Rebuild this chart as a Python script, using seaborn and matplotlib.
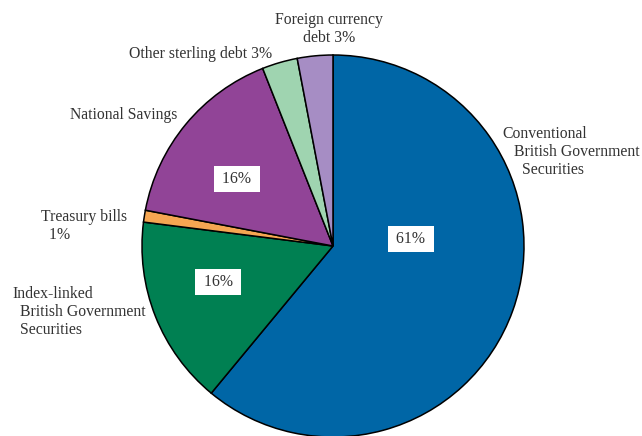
import matplotlib
matplotlib.use("Agg")
import matplotlib.pyplot as plt
import seaborn as sns

# Composition of government debt (shares, percent)
categories = [
    "Conventional British Government Securities",
    "Index-linked British Government Securities",
    "Treasury bills",
    "National Savings",
    "Other sterling debt",
    "Foreign currency debt",
]
shares = [61, 16, 1, 16, 3, 3]
colors = ["#0066a6", "#008052", "#f5a652", "#914497", "#9fd4b0", "#a68dc4"]

sns.set_theme(style="white")
plt.rcParams["font.family"] = ["Liberation Serif", "DejaVu Serif"]

W, H = 642, 436
fig = plt.figure(figsize=(W / 100, H / 100), dpi=100)
ax = fig.add_axes([0, 0, 1, 1])

cx, cy, r = 333, H - 246, 191
ax.pie(
    shares,
    colors=colors,
    startangle=90,
    counterclock=False,
    center=(cx, cy),
    radius=r,
    wedgeprops=dict(edgecolor="black", linewidth=1.1),
)
ax.set_xlim(0, W)
ax.set_ylim(0, H)
ax.set_aspect("auto")
ax.axis("off")

txt = "#333333"
fs = 11.3


def put(x, y, s, ha="left", **kw):
    # positions are given in pixels from the top-left corner
    ax.text(x, H - y, s, ha=ha, va="center", color=txt, fontsize=fs,
            linespacing=1.17, **kw)


conv, idx, tb, ns, oth, fx = shares

put(502, 152, "Conventional\n   British Government\n     Securities")
put(12, 312, "Index-linked\n  British Government\n  Securities")
put(41, 226, f"Treasury bills\n  {tb}%")
put(70, 115, "National Savings")
put(129, 54, f"Other sterling debt {oth}%")
put(329, 29, f"Foreign currency\ndebt {fx}%", ha="center", multialignment="center")

box = dict(boxstyle="square,pad=0.3", facecolor="white", edgecolor="none")
for (x, y), v in [((411, 239), conv), ((218, 282), idx), ((237, 179), ns)]:
    ax.text(x, H - y, f" {v}% ", ha="center", va="center", color=txt,
            fontsize=fs, bbox=box)

fig.savefig("out.png", dpi=100)
